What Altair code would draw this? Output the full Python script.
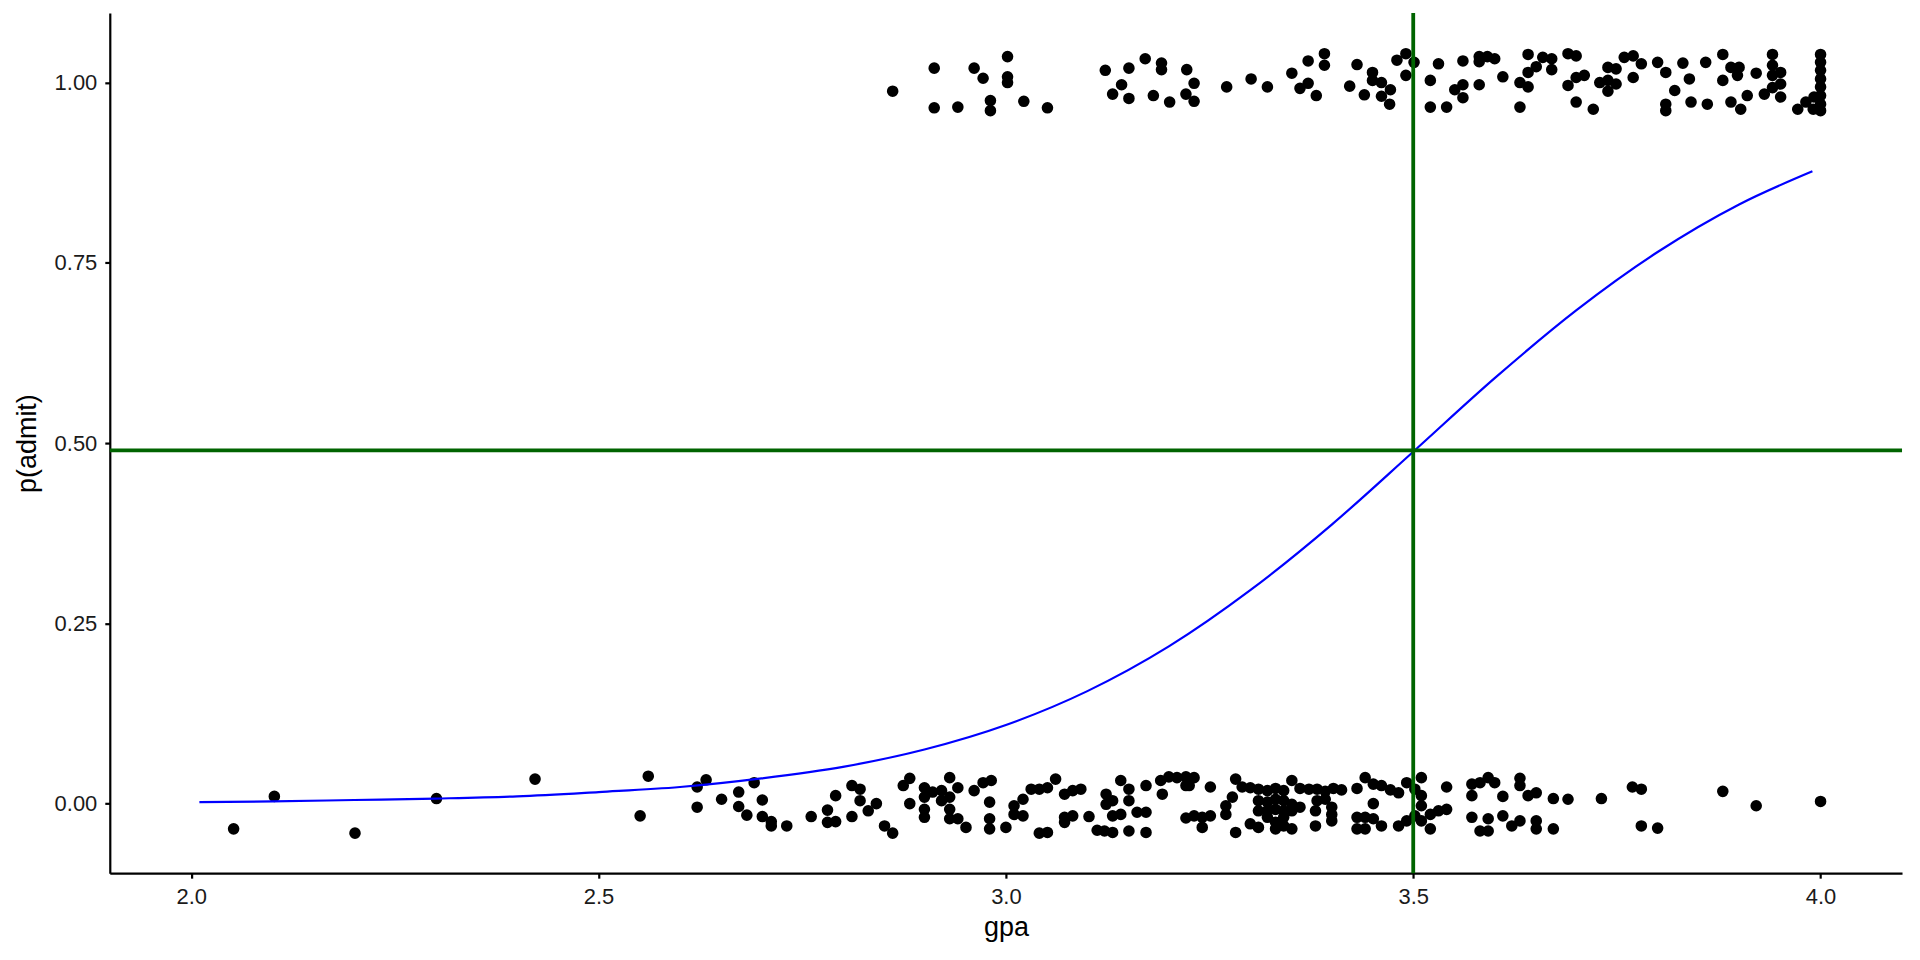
import altair as alt
import pandas as pd

# Admitted applicants (admit = 1), jittered vertically as in the picture
admit_gpa = [
    2.861, 2.912, 2.912, 2.941, 2.961, 2.972, 2.981, 2.981, 3.002, 3.002, 3.002, 3.022, 3.051,
    3.122, 3.151, 3.142, 3.131, 3.151, 3.171, 3.191, 3.191, 3.181, 3.201, 3.222, 3.231, 3.221, 3.231,
    3.271, 3.301, 3.321, 3.351, 3.371, 3.391, 3.391, 3.371, 3.361, 3.381, 3.431, 3.422, 3.450, 3.450,
    3.440, 3.461, 3.472, 3.461, 3.471, 3.480, 3.491, 3.491, 3.501, 3.531, 3.521, 3.521, 3.541, 3.561,
    3.561, 3.551, 3.561, 3.581, 3.581, 3.591, 3.600, 3.581, 3.610,
    3.641, 3.659, 3.670, 3.651, 3.641, 3.631, 3.641, 3.631, 3.690, 3.700, 3.670, 3.700, 3.710, 3.690,
    3.700, 3.721, 3.739, 3.749, 3.759, 3.770, 3.780, 3.770, 3.739, 3.729, 3.749, 3.739, 3.800, 3.810,
    3.831, 3.839, 3.821, 3.810, 3.810, 3.841, 3.861, 3.859, 3.880, 3.890, 3.900, 3.898, 3.880, 3.921,
    3.890, 3.902, 3.910, 3.941, 3.941, 3.951, 3.941, 3.951, 3.941, 3.931, 3.951, 3.972, 3.982, 3.992,
    4.000, 4.000, 4.000, 4.000, 4.000, 4.000, 4.000, 4.000, 3.991,
]
admit_y = [
    0.988, 1.020, 0.965, 0.966, 1.020, 1.006, 0.975, 0.961, 1.036, 1.008, 1.000, 0.974, 0.965,
    1.017, 1.020, 0.997, 0.984, 0.978, 1.033, 1.027, 1.018, 0.982, 0.973, 1.018, 0.999, 0.984, 0.974,
    0.994, 1.005, 0.994, 1.013, 1.030, 1.040, 1.024, 0.999, 0.992, 0.982, 1.025, 0.995, 1.014, 1.003,
    0.983, 1.000, 0.990, 0.981, 0.970, 1.031, 1.040, 1.010, 1.028, 1.026, 1.003, 0.966, 0.966, 1.030,
    0.997, 0.990, 0.979, 1.036, 1.029, 1.036, 1.033, 0.997, 1.008,
    1.039, 1.035, 1.033, 1.022, 1.014, 1.000, 0.994, 0.966, 1.040, 1.037, 1.018, 1.007, 1.010, 0.996,
    0.973, 0.963, 1.021, 1.019, 1.035, 1.037, 1.026, 1.007, 1.003, 1.000, 0.998, 0.988, 1.028, 1.014,
    1.027, 1.005, 0.989, 0.970, 0.961, 0.973, 0.970, 1.028, 1.039, 1.021, 1.021, 1.010, 1.003, 1.013,
    0.973, 0.963, 0.982, 1.039, 1.024, 1.014, 1.010, 0.998, 0.993, 0.984, 0.980, 0.963, 0.973, 0.980,
    1.039, 1.028, 1.017, 1.005, 0.994, 0.982, 0.970, 0.961, 0.963,
]

# Rejected applicants (admit = 0), jittered vertically
reject_gpa = [
    2.052, 2.102, 2.201, 2.301, 2.422,
    2.561, 2.551, 2.621, 2.632, 2.621, 2.651, 2.672, 2.672, 2.691, 2.701, 2.682, 2.701, 2.712, 2.712,
    2.731, 2.761, 2.781, 2.781, 2.791, 2.791, 2.811, 2.821, 2.821, 2.811, 2.831, 2.841, 2.851, 2.861,
    2.882, 2.874, 2.882, 2.900, 2.900, 2.910, 2.921, 2.921, 2.931, 2.931, 2.941, 2.931, 2.900, 2.900,
    2.931, 2.941, 2.951, 2.961, 2.972, 2.982, 2.980, 2.980, 2.980, 3.000, 3.010, 3.010, 3.021, 3.021,
    3.031, 3.041, 3.051, 3.061, 3.041, 3.051, 3.072, 3.082, 3.092, 3.072, 3.082, 3.072, 3.102, 3.112,
    3.123, 3.123, 3.131, 3.131, 3.141, 3.151, 3.151, 3.141, 3.121, 3.131, 3.151, 3.161, 3.172, 3.172,
    3.172, 3.190, 3.200, 3.210, 3.221, 3.192, 3.221, 3.221,
    3.231, 3.225, 3.251, 3.231, 3.241, 3.251, 3.241, 3.282, 3.290, 3.300, 3.310, 3.321, 3.331, 3.341,
    3.351, 3.361, 3.372, 3.278, 3.270, 3.270, 3.310, 3.321, 3.331, 3.341, 3.351, 3.361, 3.310, 3.321,
    3.331, 3.341, 3.351, 3.300, 3.310, 3.321, 3.331, 3.331, 3.341, 3.351, 3.341, 3.282, 3.382, 3.392,
    3.402, 3.412, 3.382, 3.392, 3.400, 3.400, 3.380, 3.400, 3.380, 3.431, 3.441, 3.451, 3.461, 3.472,
    3.482, 3.492, 3.502, 3.510, 3.510, 3.510, 3.451, 3.431, 3.441, 3.451, 3.461, 3.431, 3.441, 3.482,
    3.492, 3.502, 3.510, 3.521, 3.531, 3.541, 3.521, 3.541, 3.572, 3.572, 3.572,
    3.592, 3.600, 3.582, 3.610, 3.631, 3.631, 3.641, 3.651, 3.672, 3.690, 3.731, 3.769, 3.780, 3.880,
    3.921, 4.000, 3.592, 3.582, 3.592, 3.610, 3.621, 3.631, 3.651, 3.651, 3.672, 3.780, 3.800,
]
reject_y = [
    -0.035, 0.010, -0.041, 0.007, 0.034,
    0.038, -0.017, 0.023, 0.033, -0.005, 0.006, 0.016, -0.004, 0.029, 0.005, -0.016, -0.018, -0.025, -0.031,
    -0.031, -0.018, -0.009, -0.026, -0.025, 0.011, 0.025, 0.020, 0.004, -0.018, -0.010, 0.000, -0.031, -0.041,
    0.035, 0.025, 0.000, 0.022, 0.009, 0.016, 0.018, 0.004, 0.036, 0.009, 0.022, -0.008, -0.008, -0.019,
    -0.021, -0.021, -0.033, 0.018, 0.029, 0.032, 0.002, -0.021, -0.035, -0.033, -0.003, -0.015, 0.006, -0.017,
    0.020, 0.020, 0.022, 0.034, -0.041, -0.040, 0.013, 0.018, 0.020, -0.019, -0.017, -0.026, -0.018, -0.037,
    0.013, -0.001, 0.004, -0.017, 0.032, 0.020, 0.004, -0.015, -0.038, -0.040, -0.038, -0.012, -0.012, 0.025,
    -0.040, 0.032, 0.037, 0.036, 0.037, 0.013, 0.025, -0.020,
    0.036, 0.025, 0.023, -0.017, -0.019, -0.017, -0.033, 0.034, 0.023, 0.022, 0.020, 0.018, 0.021, 0.018,
    0.032, 0.021, 0.020, 0.009, -0.003, -0.015, 0.004, 0.002, 0.006, 0.004, -0.001, -0.005, -0.010, -0.010,
    -0.008, -0.010, -0.010, -0.028, -0.033, -0.019, -0.026, -0.035, -0.031, -0.035, -0.019, -0.040, 0.020, 0.017,
    0.021, 0.019, 0.004, 0.006, -0.005, -0.015, -0.010, -0.024, -0.031, 0.021, 0.036, 0.027, 0.025, 0.019,
    0.015, 0.029, 0.020, 0.036, 0.011, -0.003, 0.000, -0.019, -0.019, -0.021, -0.031, -0.035, -0.035, -0.031,
    -0.024, -0.017, -0.024, -0.015, -0.010, -0.008, -0.035, 0.023, 0.027, 0.011, -0.019,
    0.036, 0.029, 0.029, 0.010, 0.035, 0.025, 0.011, 0.015, 0.007, 0.006, 0.007, 0.023, 0.020, 0.017,
    -0.003, 0.003, -0.021, -0.038, -0.038, -0.017, -0.031, -0.024, -0.024, -0.035, -0.035, -0.031, -0.034,
]

# Fitted logistic curve
curve_gpa = [2.01, 2.1, 2.2, 2.3, 2.4, 2.5, 2.6, 2.7, 2.8, 2.9, 3.0, 3.1, 3.2, 3.3, 3.4, 3.5,
             3.6, 3.7, 3.8, 3.9, 3.99]
curve_p = [0.002, 0.003, 0.005, 0.007, 0.010, 0.016, 0.023, 0.035, 0.051, 0.075, 0.109, 0.156,
           0.218, 0.296, 0.387, 0.488, 0.590, 0.684, 0.765, 0.831, 0.877]

# Reference lines
vline_gpa = [3.5]
hline_p = [0.49]

x_ticks = [2.0, 2.5, 3.0, 3.5, 4.0]
y_ticks = [0.0, 0.25, 0.5, 0.75, 1.0]

points = pd.DataFrame({"gpa": admit_gpa + reject_gpa, "p": admit_y + reject_y})
curve = pd.DataFrame({"gpa": curve_gpa, "p": curve_p})
vdf = pd.DataFrame({"gpa": vline_gpa})
hdf = pd.DataFrame({"p": hline_p})

xscale = alt.Scale(domain=[1.9, 4.1], nice=False, zero=False)
yscale = alt.Scale(domain=[-0.0965, 1.0965], nice=False, zero=False)

xaxis = alt.Axis(values=x_ticks, format=".1f", title="gpa")
yaxis = alt.Axis(values=y_ticks, format=".2f", title="p(admit)")

pts = alt.Chart(points).mark_circle(size=135, color="black", opacity=1).encode(
    x=alt.X("gpa:Q", scale=xscale, axis=xaxis),
    y=alt.Y("p:Q", scale=yscale, axis=yaxis),
)

line = alt.Chart(curve).mark_line(color="#0000FF", strokeWidth=2.2, interpolate="monotone").encode(
    x=alt.X("gpa:Q", scale=xscale),
    y=alt.Y("p:Q", scale=yscale),
)

vrule = alt.Chart(vdf).mark_rule(color="#006400", strokeWidth=3.8).encode(
    x=alt.X("gpa:Q", scale=xscale)
)
hrule = alt.Chart(hdf).mark_rule(color="#006400", strokeWidth=3.8).encode(
    y=alt.Y("p:Q", scale=yscale)
)

chart = alt.layer(pts, line, vrule, hrule).properties(
    width=1796,
    height=862,
    autosize=alt.AutoSizeParams(type="none"),
    padding={"left": 102, "top": 4, "right": 10, "bottom": 80},
).configure_view(
    stroke=None
).configure_axis(
    grid=False,
    domainColor="black",
    domainWidth=2.2,
    tickColor="black",
    tickWidth=2.2,
    tickSize=5,
    labelFont="Liberation Sans",
    labelFontSize=22,
    labelColor="#1a1a1a",
    labelPadding=8,
    titleFont="Liberation Sans",
    titleFontSize=27,
    titleFontWeight="normal",
    titleColor="black",
).configure_axisX(
    titlePadding=7,
).configure_axisY(
    titlePadding=13,
)

chart.save("out.html", embed_options={"renderer": "svg", "actions": False})
